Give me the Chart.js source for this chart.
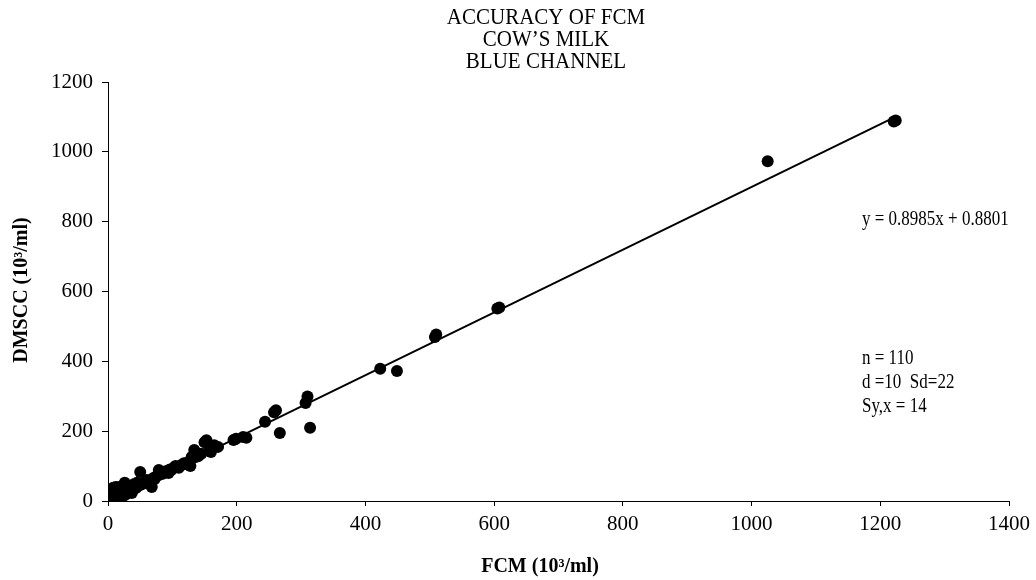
<!DOCTYPE html>
<html lang="en">

<head>
    <meta charset="UTF-8">
    <title>Accuracy of FCM</title>
    <script src="https://cdn.jsdelivr.net/npm/chart.js@4.4.0/dist/chart.umd.min.js"></script>
</head>
<style>
    body {
        margin: 0;
        background: #fff;
    }
</style>

<body>
    <canvas id="mychart" width="1036" height="580"></canvas>
    <script>
        // FCM counts (x) and DMSCC counts (y), 10^3/ml
        const fcmValues = [1224, 1221, 1025, 608, 605, 510, 508, 449, 423, 314,
            310, 307, 267, 261, 258, 244, 215, 210, 199, 195,
            171, 165, 158, 153, 150, 145, 140, 134, 130, 128,
            125, 120, 114, 110, 105, 103, 98, 94, 90, 85,
            80, 79, 75, 72, 70, 68, 65, 62, 60, 58,
            55, 52, 50, 49, 45, 44, 42, 40, 38, 37,
            35, 33, 32, 30, 28, 27, 26, 25, 24, 22,
            21, 20, 20, 19, 18, 17, 16, 15, 15, 14,
            13, 12, 12, 11, 10, 10, 9, 9, 8, 8,
            7, 7, 6, 6, 5, 5, 4, 4, 3, 3,
            2, 2, 1, 88, 96, 118, 135, 160, 23, 11]
        const dmsccValues = [1090, 1087, 973, 554, 551, 477, 470, 372, 379, 210,
            299, 281, 195, 260, 254, 227, 181, 183, 178, 175,
            155, 160, 150, 174, 168, 135, 128, 146, 126, 100,
            112, 106, 103, 95, 100, 97, 88, 80, 85, 78,
            75, 89, 70, 62, 65, 40, 55, 58, 60, 52,
            50, 48, 83, 45, 52, 38, 40, 48, 30, 23,
            38, 25, 30, 42, 25, 18, 52, 30, 20, 30,
            11, 15, 35, 22, 25, 40, 10, 35, 5, 20,
            8, 30, 40, 15, 22, 5, 12, 30, 38, 3,
            18, 25, 17, 8, 5, 12, 2, 9, 6, 3,
            1, 4, 2, 82, 90, 108, 125, 140, 14, 26]

        // regression line
        const SLOPE = 0.8985
        const INTERCEPT = 0.8801
        const trendX = [5, 1225]

        const xTicks = [0, 200, 400, 600, 800, 1000, 1200, 1400]
        const yTicks = [0, 200, 400, 600, 800, 1000, 1200]

        const titleLines = ["ACCURACY OF FCM", "COW\u2019S MILK", "BLUE CHANNEL"]
        const statLines = ["n = 110", "d =10  Sd=22", "Sy,x = 14"]
        const equation = "y = 0.8985x + 0.8801"

        const serif = '"Liberation Serif", "Times New Roman", serif'

        let points = []
        for (let i = 0; i < fcmValues.length; i++) {
            points.push({ x: fcmValues[i], y: dmsccValues[i] })
        }
        let trend = trendX.map(function (x) {
            return { x: x, y: SLOPE * x + INTERCEPT }
        })

        // text in the source is a little taller than wide, stretch it vertically
        function tallText(ctx, text, x, y, font, sy) {
            ctx.save()
            ctx.font = font
            ctx.translate(x, y)
            ctx.scale(1, sy)
            ctx.fillText(text, 0, 0)
            ctx.restore()
        }

        const textPlugin = {
            id: 'texts',
            afterDraw(chart) {
                const ctx = chart.ctx
                ctx.save()
                ctx.fillStyle = '#000'
                ctx.textBaseline = 'middle'

                ctx.textAlign = 'center'
                for (let i = 0; i < titleLines.length; i++) {
                    tallText(ctx, titleLines[i], 546, 18 + i * 22, '21px ' + serif, 1.1)
                }

                ctx.textAlign = 'left'
                tallText(ctx, equation, 862, 220, '17px ' + serif, 1.2)
                for (let i = 0; i < statLines.length; i++) {
                    tallText(ctx, statLines[i], 862, 359 + i * 24, '17px ' + serif, 1.2)
                }

                ctx.font = 'bold 20px ' + serif
                ctx.textAlign = 'center'
                ctx.fillText("FCM (10\u00b3/ml)", 540, 567)

                ctx.translate(22, 290)
                ctx.rotate(-Math.PI / 2)
                ctx.fillText("DMSCC (10\u00b3/ml)", 0, 0)
                ctx.restore()
            }
        }

        const tickFont = { family: serif, size: 21 }

        var myChart = new Chart(document.getElementById('mychart'), {
            type: 'scatter',
            data: {
                datasets: [{
                    label: 'trend',
                    type: 'line',
                    data: trend,
                    borderColor: '#000',
                    borderWidth: 2,
                    pointRadius: 0,
                    order: 2
                }, {
                    label: 'samples',
                    data: points,
                    backgroundColor: '#000',
                    borderWidth: 0,
                    pointRadius: 6,
                    order: 1
                }]
            },
            options: {
                responsive: false,
                animation: false,
                layout: { padding: { left: 0, right: 24, top: 82, bottom: 0 } },
                plugins: {
                    legend: { display: false },
                    tooltip: { enabled: false }
                },
                scales: {
                    x: {
                        type: 'linear',
                        min: 0,
                        max: 1400,
                        afterBuildTicks: function (s) { s.ticks = xTicks.map(v => ({ value: v })) },
                        afterFit: function (s) { s.height = 79 },
                        ticks: { color: '#000', font: tickFont, padding: 6, maxRotation: 0, callback: v => String(v) },
                        grid: { drawOnChartArea: false, tickLength: 5, color: '#000' },
                        border: { color: '#000', width: 1 }
                    },
                    y: {
                        type: 'linear',
                        min: 0,
                        max: 1200,
                        afterBuildTicks: function (s) { s.ticks = yTicks.map(v => ({ value: v })) },
                        afterFit: function (s) { s.width = 108 },
                        ticks: { color: '#000', font: tickFont, padding: 9, callback: v => String(v) },
                        grid: { drawOnChartArea: false, tickLength: 6, color: '#000' },
                        border: { color: '#000', width: 1 }
                    }
                }
            },
            plugins: [textPlugin]
        });
    </script>
</body>

</html>
